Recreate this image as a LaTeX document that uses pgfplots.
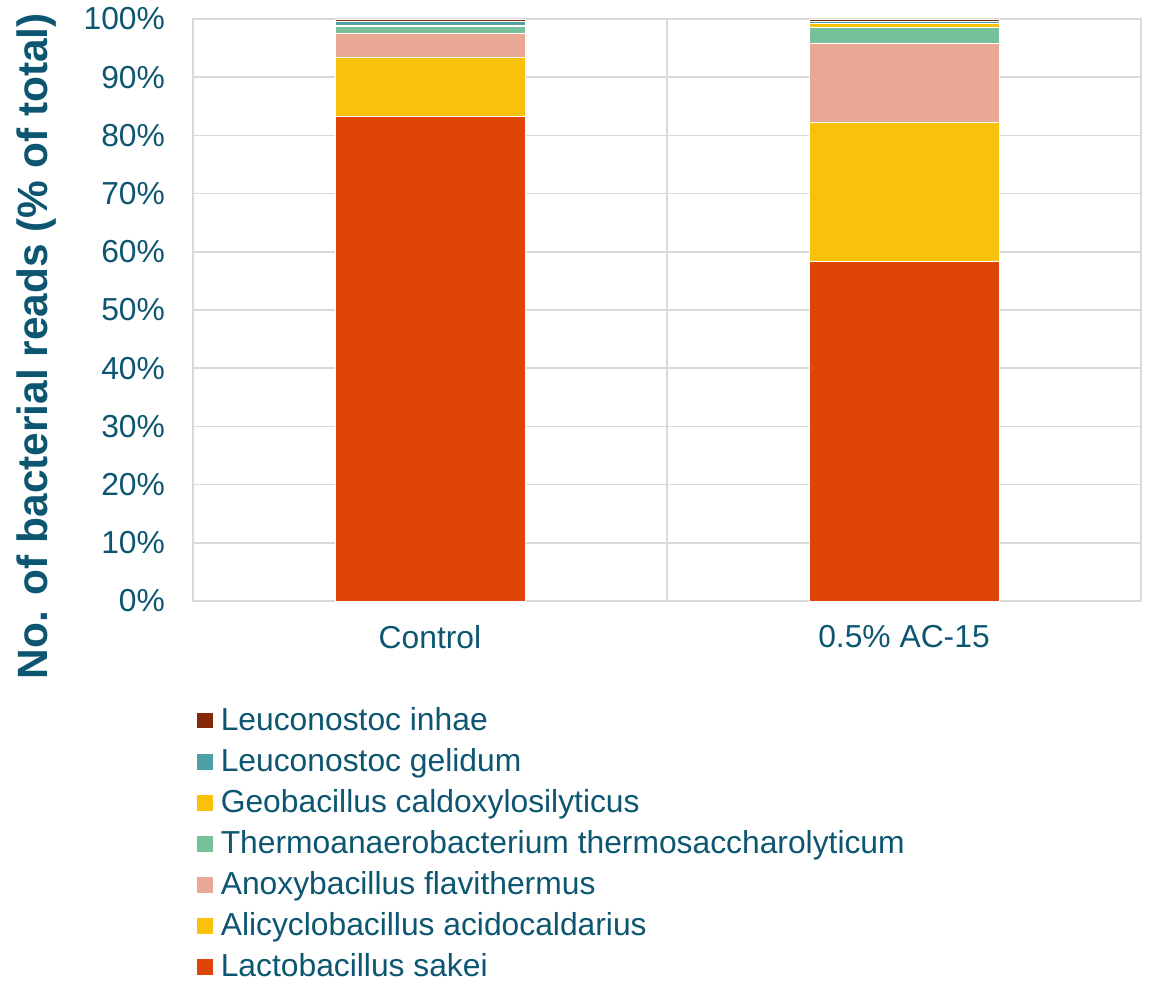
\documentclass[border=0pt]{standalone}
\usepackage{pgfplots}
\pgfplotsset{compat=1.18}
\usepackage{fontspec}
\setmainfont{Liberation Sans}
\definecolor{txt}{HTML}{0D5671}
\definecolor{cLac}{HTML}{DD4405}
\definecolor{cAli}{HTML}{F8C20A}
\definecolor{cAno}{HTML}{E8A894}
\definecolor{cThe}{HTML}{76C09A}
\definecolor{cGeo}{HTML}{F8C20A}
\definecolor{cGel}{HTML}{4F9FA6}
\definecolor{cInh}{HTML}{852A07}
\definecolor{gridc}{HTML}{D9D9D9}
\begin{document}
\begin{tikzpicture}
\begin{axis}[
  width=474pt, height=291pt, scale only axis,
  ybar stacked, bar width=95pt,
  xmin=-0.5, xmax=1.5, ymin=0, ymax=100,
  xtick={0,1}, xticklabels={Control, 0.5\% AC-15},
  extra x ticks={0.5}, extra x tick labels={},
  extra x tick style={grid=major, major grid style={gridc, line width=0.8pt}, major tick length=0pt},
  ytick={0,10,...,100},
  yticklabel={\pgfmathprintnumber{\tick}\%},
  /pgf/number format/assume math mode=true,
  ymajorgrids, grid style={gridc, line width=0.8pt},
  axis line style={gridc, line width=0.8pt},
  major tick length=0pt,
  tick label style={font=\fontsize{15.9}{18}\selectfont, text=txt},
  yticklabel style={xshift=-10.5pt},
  xticklabel style={yshift=-8.5pt},
  ylabel={\textbf{No. of bacterial reads (\% of total)}},
  ylabel style={font=\fontsize{21.2}{24}\selectfont, text=txt, anchor=center,
    at={(axis description cs:-0.1646,0.438)}},
  legend style={at={(0,-0.17)}, anchor=north west, draw=none, fill=none,
    xshift=-1.5pt, inner ysep=0pt, yshift=-1.5pt,
    font=\fontsize{15.9}{18}\selectfont, text=txt, row sep=3.5pt,
    /tikz/every odd column/.append style={column sep=1.5pt}},
  legend cell align=left,
  reverse legend,
  legend image code/.code={\fill[#1] (0pt,-4.2pt) rectangle (8.4pt,4.2pt);},
  every axis plot/.append style={draw=white, line width=0.3pt},
]
\addplot[fill=cLac] coordinates {(0,83.3) (1,58.4)};
\addlegendentry{Lactobacillus sakei}
\addplot[fill=cAli] coordinates {(0,10.2) (1,23.8)};
\addlegendentry{Alicyclobacillus acidocaldarius}
\addplot[fill=cAno] coordinates {(0,4.1) (1,13.6)};
\addlegendentry{Anoxybacillus flavithermus}
\addplot[fill=cThe] coordinates {(0,1.1) (1,2.7)};
\addlegendentry{Thermoanaerobacterium thermosaccharolyticum}
\addplot[fill=cGeo] coordinates {(0,0.3) (1,0.8)};
\addlegendentry{Geobacillus caldoxylosilyticus}
\addplot[fill=cGel] coordinates {(0,0.6) (1,0.3)};
\addlegendentry{Leuconostoc gelidum}
\addplot[fill=cInh] coordinates {(0,0.4) (1,0.4)};
\addlegendentry{Leuconostoc inhae}
\coordinate (BL) at (rel axis cs:0,0);
\coordinate (TR) at (rel axis cs:1,1);
\end{axis}
\pgfresetboundingbox
\path ([xshift=-96.5pt,yshift=-190pt]BL) rectangle ([xshift=7pt,yshift=9.5pt]TR);
\end{tikzpicture}
\end{document}
